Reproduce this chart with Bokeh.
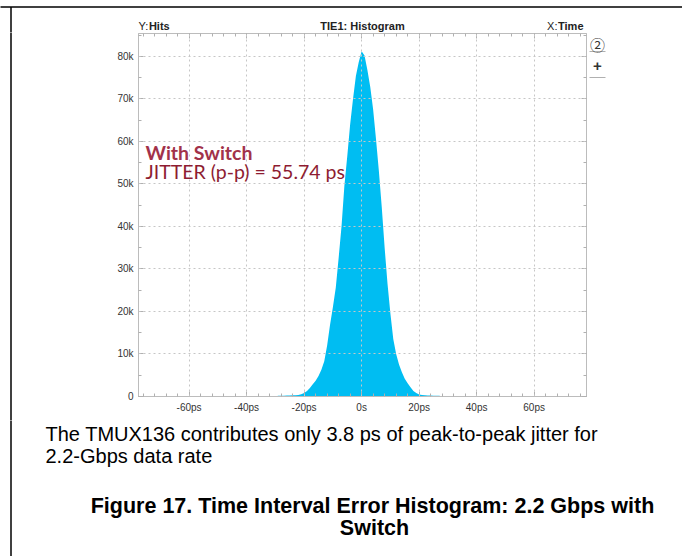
from bokeh.plotting import figure
from bokeh.layouts import column, row
from bokeh.models import (Range1d, FixedTicker, Label, ColumnDataSource,
                          LinearAxis)
from bokeh.embed import file_html
from bokeh.resources import INLINE

# ---------------- data ----------------
time_ps = [-30, -29, -28, -27, -26, -25, -24, -23, -22, -21, -20, -19, -18,
           -17, -16, -15, -14, -13, -12, -11, -10, -9, -8, -7, -6, -5, -4,
           -3, -2, -1, 0, 1, 2, 3, 4, 5, 6, 7, 8, 9, 10, 11, 12, 13, 14, 15,
           16, 17, 18, 19, 20, 21, 22, 23, 24, 25, 26, 27, 28]
hits = [0, 150, 200, 200, 250, 250, 300, 300, 350, 500, 800, 1300, 2000,
        2900, 3700, 4800, 6300, 8300, 12000, 16800, 21000, 25600, 32600,
        40000, 49600, 56500, 64000, 70000, 75400, 78700, 81200, 80200, 76800,
        72800, 67500, 60500, 53000, 44500, 35000, 26500, 19500, 13500, 10000,
        7500, 5700, 4200, 3100, 2200, 1300, 800, 450, 350, 300, 250, 250, 200,
        200, 150, 0]

x_ticks = [-60, -40, -20, 0, 20, 40, 60]
x_tick_labels = ["-60ps", "-40ps", "-20ps", "0s", "20ps", "40ps", "60ps"]
x_minor = [-76, -72, -68, -64, -60, -56, -52, -48, -44, -40, -36, -32, -28,
           -24, -20, -16, -12, -8, -4, 0, 4, 8, 12, 16, 20, 24, 28, 32, 36,
           40, 44, 48, 52, 56, 60, 64, 68, 72, 76]
y_ticks = [0, 10000, 20000, 30000, 40000, 50000, 60000, 70000, 80000]
y_tick_labels = ["0", "10k", "20k", "30k", "40k", "50k", "60k", "70k", "80k"]
y_minor = [0, 5000, 10000, 15000, 20000, 25000, 30000, 35000, 40000, 45000,
           50000, 55000, 60000, 65000, 70000, 75000, 80000, 85000]

header_left = ("Y:", "Hits")
header_center = "TIE1: Histogram"
header_right = ("X:", "Time")
side_buttons = ["\u2461", "+"]
annot_title = "With Switch"
annot_value = "JITTER (p-p) = 55.74 ps"
body_lines = ["The TMUX136 contributes only 3.8 ps of peak-to-peak jitter for",
              "2.2-Gbps data rate"]
caption_lines = ["Figure 17. Time Interval Error Histogram: 2.2 Gbps with",
                 "Switch"]

# ---------------- geometry (page pixels) ----------------
W, H = 682, 556
FL, FR, FT, FB = 138, 586, 33, 396   # scope frame edges
TOP_H = 32                           # header strip
MID_BOTTOM = 420                     # end of the plot row
STRIP_W = 100                        # left strip holding the page rule
RIGHT_X = FR + 1                     # start of the side-button strip


def blank(w, h, x0, x1, y_top, y_bot):
    f = figure(width=w, height=h, output_backend="svg", toolbar_location=None,
               x_range=Range1d(x0, x1), y_range=Range1d(y_bot, y_top),
               x_axis_type=None, y_axis_type=None, min_border=0)
    f.outline_line_color = None
    f.background_fill_color = "white"
    f.border_fill_color = "white"
    f.frame_align = False
    return f


def lab(f, x, y, text, font="Liberation Sans", size="11px", style="normal",
        color="#111111", align="left", units="data"):
    f.add_layout(Label(x=x, y=y, x_units=units, y_units=units, text=text,
                       text_font=font, text_font_size=size,
                       text_font_style=style, text_color=color,
                       text_align=align, text_baseline="middle"))


# ---- header strip ----
top = blank(W, TOP_H, 0, W, 0, TOP_H)
top.segment(x0=[-5, 10.5], y0=[6.5, 6.5], x1=[W + 5, 10.5], y1=[6.5, TOP_H + 5],
            line_color="black", line_width=1.5)
lab(top, FL, 25, header_left[0], color="#222222")
lab(top, FL + 10.4, 25, header_left[1], style="bold", color="#222222")
lab(top, (FL + FR) / 2, 25, header_center, style="bold", color="#222222",
    align="center")
lab(top, 557, 25, header_right[0], color="#222222", align="right")
lab(top, 583, 25, header_right[1], style="bold", color="#222222",
    align="right")

# ---- left strip with page rule ----
strip = blank(STRIP_W, MID_BOTTOM - TOP_H, 0, STRIP_W, TOP_H, MID_BOTTOM)
strip.segment(x0=[10.5], y0=[TOP_H - 5], x1=[10.5], y1=[MID_BOTTOM + 5],
              line_color="black", line_width=1.5)

# ---- main histogram plot ----
p = figure(width=FR + 1 - STRIP_W, height=MID_BOTTOM - TOP_H,
           output_backend="svg", toolbar_location=None,
           x_range=Range1d(-77.6, 78.2), y_range=Range1d(0, 85400),
           min_border_left=FL - STRIP_W, min_border_right=1,
           min_border_top=FT - TOP_H, min_border_bottom=MID_BOTTOM - FB)
p.frame_align = False
p.background_fill_color = "white"
p.border_fill_color = "white"
p.outline_line_color = "#bcbcbc"
p.outline_line_width = 1

src = ColumnDataSource(dict(t=time_ps, h=hits))
p.varea(x="t", y1=0, y2="h", source=src, fill_color="#00bdf2")

xt = FixedTicker(ticks=x_ticks, minor_ticks=x_minor)
yt = FixedTicker(ticks=y_ticks, minor_ticks=y_minor)
bx, ly = p.xaxis[0], p.yaxis[0]
bx.ticker = xt
ly.ticker = yt
p.xgrid.ticker = xt
p.ygrid.ticker = yt
bx.major_label_overrides = {t: s for t, s in zip(x_ticks, x_tick_labels)}
ly.major_label_overrides = {t: s for t, s in zip(y_ticks, y_tick_labels)}

for g in (p.xgrid[0], p.ygrid[0]):
    g.grid_line_color = "#c6c6c6"
    g.grid_line_dash = "2 3"
    g.grid_line_width = 1
    g.level = "annotation"

# tick-only axes on the top and right edges of the scope frame
tx = LinearAxis(ticker=xt, major_label_overrides={t: "" for t in x_ticks},
                major_label_text_font_size="0px", major_label_standoff=0)
ry = LinearAxis(ticker=yt, major_label_overrides={t: "" for t in y_ticks},
                major_label_text_font_size="0px", major_label_standoff=0)
p.add_layout(tx, "above")
p.add_layout(ry, "right")

for ax in (bx, ly, tx, ry):
    ax.axis_line_color = "#bcbcbc"
    ax.major_tick_line_color = "#b0b0b0"
    ax.minor_tick_line_color = "#b0b0b0"
    ax.major_tick_in = 5
    ax.major_tick_out = 0
    ax.minor_tick_in = 3
    ax.minor_tick_out = 0
for ax in (bx, ly):
    ax.major_label_text_font = "Liberation Sans"
    ax.major_label_text_font_size = "10px"
    ax.major_label_text_color = "#333333"
    ax.major_label_standoff = 5

# annotation inside the frame (screen units = pixels from frame bottom-left)
lab(p, 145 - FL, FB - 151.7, annot_title, font="Lato", size="19.5px",
    style="bold", color="#a2324a", units="screen")
lab(p, 145 - FL, FB - 170.5, annot_value, font="Lato", size="19.5px",
    color="#8e1c31", units="screen")

# ---- right strip with the scope's side buttons ----
side = blank(W - RIGHT_X, MID_BOTTOM - TOP_H, RIGHT_X, W, TOP_H, MID_BOTTOM)
lab(side, 597, 43.5, side_buttons[0], font="Noto Sans CJK JP", size="15px",
    color="#333333", align="center")
lab(side, 597, 65, side_buttons[1], size="15px", style="bold",
    color="#333333", align="center")
side.segment(x0=[589, 589], y0=[51, 77], x1=[605, 605], y1=[51, 77],
             line_color="#b0b0b0", line_width=1)

# ---- body text and caption ----
bot = blank(W, H - MID_BOTTOM, 0, W, MID_BOTTOM, H)
bot.segment(x0=[10.5], y0=[MID_BOTTOM - 5], x1=[10.5], y1=[H + 5],
            line_color="black", line_width=1.5)
lab(bot, 45, 433.7, body_lines[0], size="20px", color="#000000")
lab(bot, 45, 455, body_lines[1], size="20px", color="#000000")
lab(bot, 372, 505, caption_lines[0], size="21.5px", style="bold",
    color="#000000", align="center")
lab(bot, 374, 527.5, caption_lines[1], size="21.5px", style="bold",
    color="#000000", align="center")

layout = column(top, row(strip, p, side, spacing=0), bot, spacing=0)
open("out.html", "w").write(file_html(layout, INLINE))
